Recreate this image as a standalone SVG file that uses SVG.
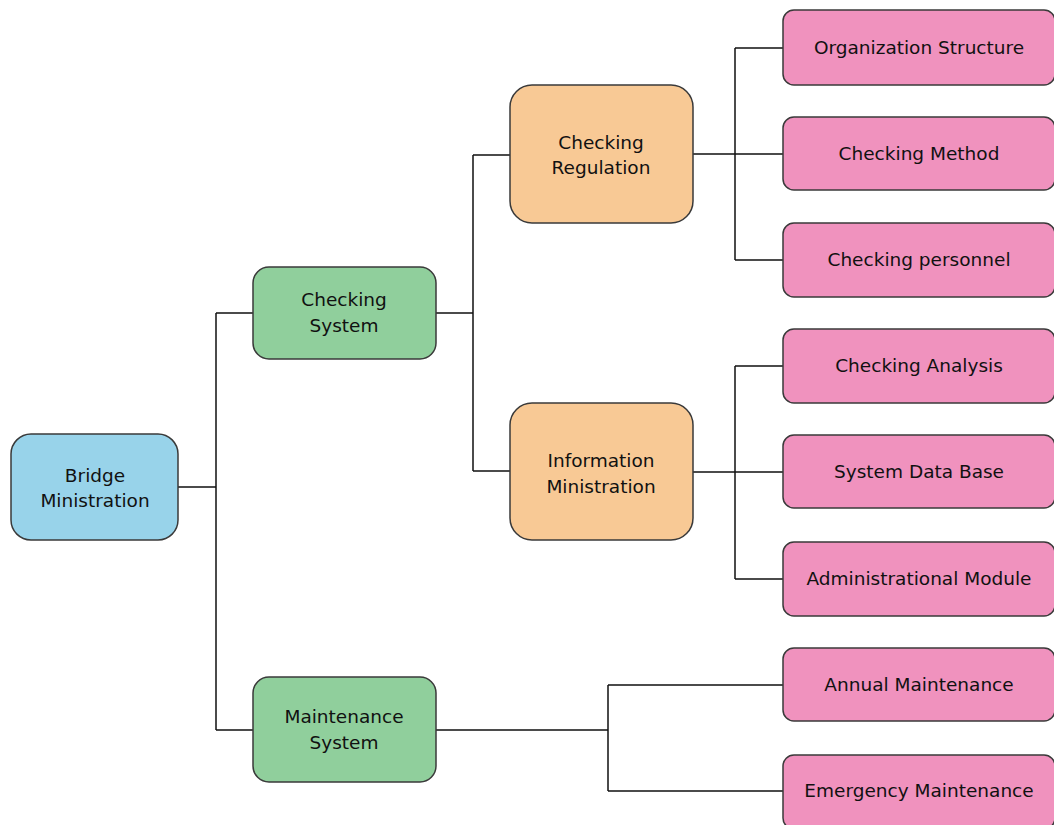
<svg xmlns="http://www.w3.org/2000/svg" width="1054" height="825" viewBox="0 0 1054 825">
<style>
  .box { stroke: #3a3a3a; stroke-width: 1.5; }
  .blue { fill: #98d3ea; }
  .green { fill: #90cf9c; }
  .orange { fill: #f8c995; }
  .pink { fill: #f092be; }
  .lbl { font-family: "DejaVu Sans", "Liberation Sans", sans-serif; font-size: 18.5px; fill: #111; text-anchor: middle; }
  .conn { fill: none; stroke: #111; stroke-width: 1.5; }
</style>
<rect width="1054" height="825" fill="#ffffff"/>
<g id="connectors">
  <path class="conn" d="M178,487 H216 M216,313 V730 M216,313 H253 M216,730 H253"/>
  <path class="conn" d="M436,313 H473 M473,155 V471 M473,155 H510 M473,471 H510"/>
  <path class="conn" d="M693,154 H783 M735,48 V260 M735,48 H783 M735,260 H783"/>
  <path class="conn" d="M693,472 H783 M735,366 V579 M735,366 H783 M735,579 H783"/>
  <path class="conn" d="M436,730 H608 M608,685 V791 M608,685 H783 M608,791 H783"/>
</g>
<g id="bridge-ministration">
  <rect class="box blue" x="11" y="434" width="167" height="106" rx="20"/>
  <text class="lbl" x="95" y="482">Bridge</text>
  <text class="lbl" x="95" y="507">Ministration</text>
</g>
<g id="checking-system">
  <rect class="box green" x="253" y="267" width="183" height="92" rx="16"/>
  <text class="lbl" x="344" y="306">Checking</text>
  <text class="lbl" x="344" y="332">System</text>
</g>
<g id="maintenance-system">
  <rect class="box green" x="253" y="677" width="183" height="105" rx="16"/>
  <text class="lbl" x="344" y="723">Maintenance</text>
  <text class="lbl" x="344" y="749">System</text>
</g>
<g id="checking-regulation">
  <rect class="box orange" x="510" y="85" width="183" height="138" rx="22"/>
  <text class="lbl" x="601" y="149">Checking</text>
  <text class="lbl" x="601" y="174">Regulation</text>
</g>
<g id="information-ministration">
  <rect class="box orange" x="510" y="403" width="183" height="137" rx="22"/>
  <text class="lbl" x="601" y="467">Information</text>
  <text class="lbl" x="601" y="493">Ministration</text>
</g>
<g id="organization-structure">
  <rect class="box pink" x="783" y="10" width="272" height="75" rx="11"/>
  <text class="lbl" x="919" y="54">Organization Structure</text>
</g>
<g id="checking-method">
  <rect class="box pink" x="783" y="117" width="272" height="73" rx="11"/>
  <text class="lbl" x="919" y="160">Checking Method</text>
</g>
<g id="checking-personnel">
  <rect class="box pink" x="783" y="223" width="272" height="74" rx="11"/>
  <text class="lbl" x="919" y="266">Checking personnel</text>
</g>
<g id="checking-analysis">
  <rect class="box pink" x="783" y="329" width="272" height="74" rx="11"/>
  <text class="lbl" x="919" y="372">Checking Analysis</text>
</g>
<g id="system-data-base">
  <rect class="box pink" x="783" y="435" width="272" height="73" rx="11"/>
  <text class="lbl" x="919" y="478">System Data Base</text>
</g>
<g id="administrational-module">
  <rect class="box pink" x="783" y="542" width="272" height="74" rx="11"/>
  <text class="lbl" x="919" y="585">Administrational Module</text>
</g>
<g id="annual-maintenance">
  <rect class="box pink" x="783" y="648" width="272" height="73" rx="11"/>
  <text class="lbl" x="919" y="691">Annual Maintenance</text>
</g>
<g id="emergency-maintenance">
  <rect class="box pink" x="783" y="755" width="272" height="74" rx="11"/>
  <text class="lbl" x="919" y="797">Emergency Maintenance</text>
</g>
</svg>
